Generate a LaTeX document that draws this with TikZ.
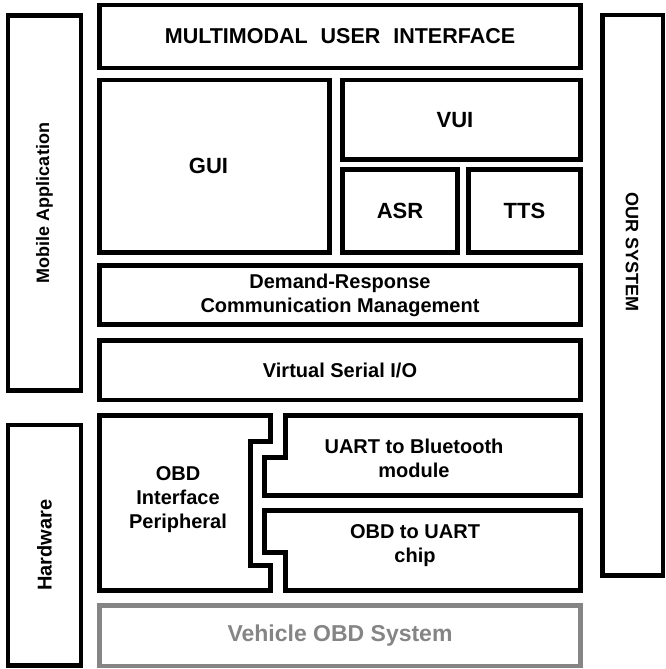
\documentclass[tikz,border=0pt]{standalone}
\usepackage{fontspec}
\setmainfont{Liberation Sans}
\usetikzlibrary{positioning}
\tikzset{
    layer/.style={
           rectangle,
           draw=black, line width=4.5pt,
           outer sep=0pt,
           inner sep=2pt,
           align=center,
           font=\bfseries\fontsize{20}{24}\selectfont,
           },
    biglayer/.style={layer, font=\bfseries\fontsize{22}{26}\selectfont},
    side/.style={layer, font=\bfseries\fontsize{18}{22}\selectfont},
    blk/.style={draw=black, line width=4.5pt},
    txt/.style={align=center, font=\bfseries\fontsize{20}{24}\selectfont},
}
\begin{document}
\begin{tikzpicture}[x=1pt,y=-1pt]
  \useasboundingbox (0,0) rectangle (666,669);
  % software stack
  \node[layer,
 minimum width=481pt,
 minimum height=63pt,
 font=\bfseries\fontsize{21.5}{25}\selectfont] (MUI) at (340,36.5)
 {MULTIMODAL\hspace{0.6em}USER\hspace{0.6em}INTERFACE};
  \node[biglayer,
 below right=12pt and 0pt of MUI.south west,
 minimum width=230pt,
 minimum height=172.5pt] (GUI) {GUI\hspace{12pt}};
  \node[biglayer,
 below left=12pt and 0pt of MUI.south east,
 minimum width=238pt,
 minimum height=79.5pt] (VUI) {VUI\hspace{13pt}};
  \node[biglayer,
 below right=10pt and 0pt of VUI.south west,
 minimum width=115pt,
 minimum height=83pt] (ASR) {ASR};
  \node[biglayer,
 below left=10pt and 0pt of VUI.south east,
 minimum width=112pt,
 minimum height=83pt] (TTS) {TTS};
  \node[layer,
 below right=13pt and 0pt of GUI.south west,
 minimum width=481pt,
 minimum height=59pt] (DRCM)
 {Demand-Response\\Communication Management};
  \node[layer,
 below=16pt of DRCM,
 minimum width=481pt,
 minimum height=59.5pt] (VSIO) {Virtual Serial I/O};
  % hardware part
  \draw[blk] (99.5,415.5) -- (270.5,415.5) -- (270.5,441.5) -- (250.5,441.5)
    -- (250.5,565.5) -- (270.5,565.5) -- (270.5,590.5) -- (99.5,590.5) -- cycle;
  \node[txt] (OBDIP) at (178,500) {OBD\\Interface\\Peripheral};
  \draw[blk] (285.5,415.5) -- (580.5,415.5) -- (580.5,495.5) -- (264.5,495.5)
    -- (264.5,457.5) -- (285.5,457.5) -- cycle;
  \node[txt] (UBT) at (414,458.5) {UART to Bluetooth\\module};
  \draw[blk] (264.5,510.5) -- (580.5,510.5) -- (580.5,590.5) -- (285.5,590.5)
    -- (285.5,552.5) -- (264.5,552.5) -- cycle;
  \node[txt] (OBDU) at (415,545.5) {OBD to UART\\chip};
  \node[layer,
 draw=black!48,
 text=black!48,
 minimum width=481pt,
 minimum height=60.5pt,
 font=\bfseries\fontsize{23}{27}\selectfont] (VOBD) at (340,635.75)
 {Vehicle OBD System};
  % side labels
  \node[side,
 rotate=90,
 minimum width=375pt,
 minimum height=73pt] (MOB) at (44.5,203) {Mobile Application};
  \node[side,
 rotate=90,
 minimum width=240.5pt,
 minimum height=73pt,
 font=\bfseries\fontsize{20}{24}\selectfont] (HW) at (44.5,545.25) {Hardware};
  \node[layer,
 minimum width=60.5pt,
 minimum height=560.5pt] (SYS) at (632.75,295.25) {};
  \node[side, draw=none, rotate=-90] (SYSL) at (632,252) {OUR SYSTEM};
\end{tikzpicture}
\end{document}
